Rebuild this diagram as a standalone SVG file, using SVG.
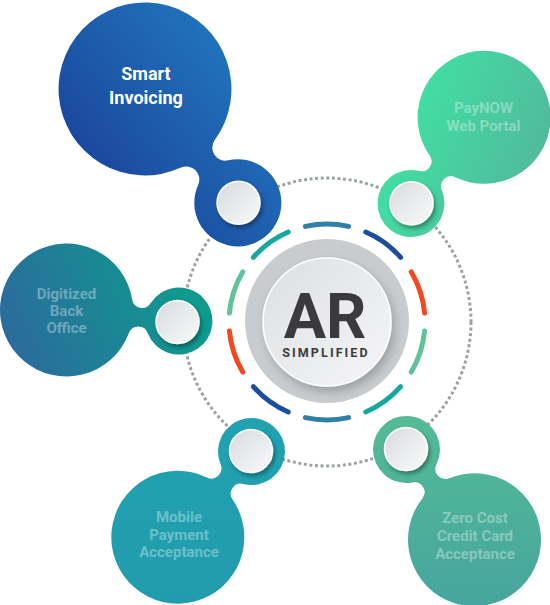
<svg xmlns="http://www.w3.org/2000/svg" width="550" height="605" viewBox="0 0 550 605">
<style>
.lbl{font-family:Roboto,"Liberation Sans",sans-serif;font-weight:700;text-anchor:middle;fill:#ffffff}
.dim{fill-opacity:0.35;font-size:15px}
.seg{fill:none;stroke-width:5;stroke-linecap:round}
.knob{fill:url(#knobG);stroke:#ffffff;stroke-width:1.5;filter:url(#sh)}
</style>
<defs>
<path id="blob" d="M64.35 16.79 A10 10 0 0 1 82.98 14.88 A33.5 33.5 0 1 0 82.98 -14.88 A10 10 0 0 1 64.35 -16.79 A66.5 66.5 0 1 0 64.35 16.79 Z"/>
<filter id="sh" x="-50%" y="-50%" width="200%" height="200%">
<feDropShadow dx="2" dy="3" stdDeviation="2.2" flood-color="#000" flood-opacity="0.35"/>
</filter>
<filter id="sh2" x="-30%" y="-30%" width="160%" height="160%">
<feDropShadow dx="3" dy="5" stdDeviation="5" flood-color="#000" flood-opacity="0.22"/>
</filter>
<linearGradient id="knobG" x1="0" y1="0" x2="1" y2="1">
<stop offset="0" stop-color="#d7dadd"/><stop offset="1" stop-color="#fafafa"/>
</linearGradient>
<linearGradient id="coreG" x1="0" y1="0" x2="1" y2="1">
<stop offset="0" stop-color="#dcdfe2"/><stop offset="1" stop-color="#f6f6f7"/>
</linearGradient>
<linearGradient id="g1" gradientUnits="userSpaceOnUse" x1="-80" y1="70" x2="95" y2="-70" gradientTransform="scale(0.76923) rotate(-50.8)">
<stop offset="0" stop-color="#1a4499"/><stop offset="1" stop-color="#2279c2"/>
</linearGradient>
<linearGradient id="g2" gradientUnits="userSpaceOnUse" x1="-100" y1="-30" x2="66" y2="40" gradientTransform="rotate(-130.3)">
<stop offset="0" stop-color="#3ee6a6"/><stop offset="1" stop-color="#52b89b"/>
</linearGradient>
<linearGradient id="g3" gradientUnits="userSpaceOnUse" x1="-60" y1="55" x2="120" y2="-20" gradientTransform="rotate(-5.6)">
<stop offset="0" stop-color="#2d689d"/><stop offset="1" stop-color="#0e9b8e"/>
</linearGradient>
<linearGradient id="g4" gradientUnits="userSpaceOnUse" x1="0" y1="-170" x2="0" y2="66" gradientTransform="rotate(49.3)">
<stop offset="0" stop-color="#20a4b2"/><stop offset="1" stop-color="#229cad"/>
</linearGradient>
<linearGradient id="g5" gradientUnits="userSpaceOnUse" x1="0" y1="-170" x2="0" y2="66" gradientTransform="rotate(127)">
<stop offset="0" stop-color="#58c194"/><stop offset="1" stop-color="#46a59e"/>
</linearGradient>
</defs>

<g id="connectors">
<circle cx="327" cy="322" r="144" fill="none" stroke="#9aa3a1" stroke-width="3" stroke-dasharray="3 2.6"/>
</g>

<g id="center">
<path class="seg" stroke="#2e80a8" d="M305.46 226.40 A98 98 0 0 1 348.54 226.40"/>
<path class="seg" stroke="#1f4d9e" d="M365.76 231.99 A98 98 0 0 1 400.63 257.32"/>
<path class="seg" stroke="#f2481f" d="M411.27 271.97 A98 98 0 0 1 424.58 312.95"/>
<path class="seg" stroke="#5ec39b" d="M424.58 331.05 A98 98 0 0 1 411.27 372.03"/>
<path class="seg" stroke="#16a89f" d="M400.63 386.68 A98 98 0 0 1 365.76 412.01"/>
<path class="seg" stroke="#2e80a8" d="M348.54 417.60 A98 98 0 0 1 305.46 417.60"/>
<path class="seg" stroke="#1f4d9e" d="M288.24 412.01 A98 98 0 0 1 253.37 386.68"/>
<path class="seg" stroke="#f2481f" d="M242.73 372.03 A98 98 0 0 1 229.42 331.05"/>
<path class="seg" stroke="#5ec39b" d="M229.42 312.95 A98 98 0 0 1 242.73 271.97"/>
<path class="seg" stroke="#16a89f" d="M253.37 257.32 A98 98 0 0 1 288.24 231.99"/>
<circle cx="327" cy="321" r="82" fill="#c9ccce"/>
<circle cx="327" cy="322" r="64" fill="url(#coreG)" stroke="#ffffff" stroke-width="1.5" filter="url(#sh2)"/>
<text x="325" y="338" class="lbl" style="font-size:63px;fill:#3b3b3d">AR</text>
<text x="326" y="357" class="lbl" style="font-size:12.5px;letter-spacing:2.1px;fill:#3b3b3d">SIMPLIFIED</text>
</g>

<g id="node-smart-invoicing">
<use href="#blob" fill="url(#g1)" transform="translate(145,89) rotate(50.8) scale(1.3)"/>
<circle class="knob" cx="238.5" cy="202.8" r="21.5"/>
<text class="lbl" style="font-size:18px" x="146" y="80">Smart</text>
<text class="lbl" style="font-size:18px" x="146" y="104">Invoicing</text>
</g>

<g id="node-paynow">
<use href="#blob" fill="url(#g2)" transform="translate(484.1,117.3) rotate(130.3)"/>
<circle class="knob" cx="411.5" cy="203.3" r="21.5"/>
<text class="lbl dim" x="483.5" y="113">PayNOW</text>
<text class="lbl dim" x="483.5" y="131">Web Portal</text>
</g>

<g id="node-digitized">
<use href="#blob" fill="url(#g3)" transform="translate(66.5,310) rotate(5.6)"/>
<circle class="knob" cx="177.5" cy="322" r="21.5"/>
<text class="lbl dim" x="66.5" y="299">Digitized</text>
<text class="lbl dim" x="66.5" y="316">Back</text>
<text class="lbl dim" x="66.5" y="333">Office</text>
</g>

<g id="node-mobile">
<use href="#blob" fill="url(#g4)" transform="translate(177.8,537.2) rotate(-49.3)"/>
<circle class="knob" cx="251" cy="451" r="21.5"/>
<text class="lbl dim" x="179" y="521.5">Mobile</text>
<text class="lbl dim" x="179" y="539.5">Payment</text>
<text class="lbl dim" x="179" y="557">Acceptance</text>
</g>

<g id="node-zero-cost">
<use href="#blob" fill="url(#g5)" transform="translate(474.5,539.7) rotate(-127)"/>
<circle class="knob" cx="406" cy="449" r="21.5"/>
<text class="lbl dim" x="475" y="523">Zero Cost</text>
<text class="lbl dim" x="475" y="541">Credit Card</text>
<text class="lbl dim" x="475" y="559">Acceptance</text>
</g>
</svg>
